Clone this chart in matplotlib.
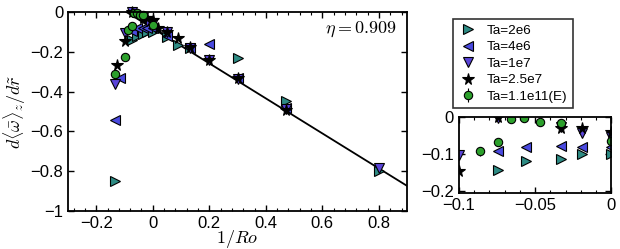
import numpy as np
import matplotlib.pyplot as plt
from matplotlib.ticker import AutoMinorLocator, MultipleLocator, FuncFormatter

plt.rcParams['font.family'] = ['Liberation Sans', 'DejaVu Sans']
plt.rcParams['mathtext.fontset'] = 'cm'

# Datos
x_2e6 = [-0.134, -0.074, -0.056, -0.033, -0.019, 0.0, 0.05, 0.088, 0.133, 0.3, 0.47, 0.8]
y_2e6 = [-0.848, -0.142, -0.118, -0.112, -0.100, -0.100, -0.125, -0.165, -0.18, -0.233, -0.446, -0.80]

x_4e6 = [-0.134, -0.115, -0.074, -0.056, -0.033, -0.019, 0.0, 0.05, 0.133, 0.2, 0.3, 0.47]
y_4e6 = [-0.543, -0.33, -0.093, -0.081, -0.078, -0.080, -0.080, -0.12, -0.18, -0.159, -0.33, -0.48]

x_1e7 = [-0.134, -0.1, -0.074, -0.033, -0.019, 0.0, 0.05, 0.133, 0.2, 0.3, 0.47, 0.8]
y_1e7 = [-0.36, -0.103, -0.002, -0.026, -0.043, -0.055, -0.10, -0.18, -0.24, -0.335, -0.485, -0.785]

x_25e7 = [-0.125, -0.1, -0.074, -0.033, -0.019, 0.0, 0.019, 0.05, 0.088, 0.133, 0.2, 0.3, 0.47]
y_25e7 = [-0.266, -0.145, 0.0, -0.03, -0.03, -0.04, -0.082, -0.10, -0.13, -0.174, -0.24, -0.33, -0.49]

x_exp = [-0.134, -0.1, -0.086, -0.074, -0.066, -0.057, -0.047, -0.033, 0.0]
y_exp = [-0.31, -0.224, -0.092, -0.068, -0.005, -0.003, -0.014, -0.015, -0.064]
e_exp = [0.01, 0.01, 0.012, 0.01, 0.008, 0.008, 0.01, 0.01, 0.012]

# Ajuste lineal
pendiente = -0.88
ordenada = -0.082
x_fit = np.array([-0.093, 0.9])

series = [
    (x_2e6, y_2e6, '>', '#2e8b84', 'Ta=2e6'),
    (x_4e6, y_4e6, '<', '#4a4ae0', 'Ta=4e6'),
    (x_1e7, y_1e7, 'v', '#5a44d8', 'Ta=1e7'),
    (x_25e7, y_25e7, '*', 'black', 'Ta=2.5e7'),
]

fig = plt.figure(figsize=(6.2, 2.49), dpi=100)
ax = fig.add_axes([0.1097, 0.1526, 0.547, 0.799])
ax2 = fig.add_axes([0.740, 0.225, 0.246, 0.305])


def dibujar(a, ms, clip):
    for xs, ys, m, c, lab in series:
        kw = dict(marker=m, linestyle='none', mfc=c, mec='black', ms=ms, mew=0.8, label=lab)
        if m == '*':
            kw.update(ms=ms + 2, mec='black')
        a.plot(xs, ys, clip_on=clip, **kw)
    a.errorbar(x_exp, y_exp, yerr=e_exp, fmt='o', mfc='#2ca02c', mec='black', ecolor='black',
               ms=ms - 0.5, mew=0.8, elinewidth=0.8, capsize=0, label='Ta=1.1e11(E)',
               clip_on=clip)


fmt = FuncFormatter(lambda v, p: ('%g' % round(v, 6)).replace('-', '\u2212'))

ax.plot(x_fit, ordenada + pendiente * x_fit, color='black', lw=1.3, zorder=1)
dibujar(ax, 6.5, False)
dibujar(ax2, 6.5, True)

ax.set_xlim(-0.3, 0.9)
ax.set_ylim(-1, 0)
ax.xaxis.set_major_locator(MultipleLocator(0.2))
ax.yaxis.set_major_locator(MultipleLocator(0.2))
ax.xaxis.set_minor_locator(AutoMinorLocator(5))
ax.set_xlabel(r'$1/Ro$', fontsize=13, labelpad=-2)
ax.set_ylabel(r'$d\langle\bar{\omega}\rangle_z/d\tilde{r}$', fontsize=13, labelpad=2)
ax.text(0.97, 0.96, r'$\eta=0.909$', transform=ax.transAxes, ha='right', va='top', fontsize=13)

ax2.set_xlim(-0.1, 0.0)
ax2.set_ylim(-0.205, 0)
ax2.xaxis.set_major_locator(MultipleLocator(0.05))
ax2.yaxis.set_major_locator(MultipleLocator(0.1))
ax2.xaxis.set_minor_locator(AutoMinorLocator(5))

for a in (ax, ax2):
    a.xaxis.set_major_formatter(fmt)
    a.yaxis.set_major_formatter(fmt)
    a.tick_params(which='both', direction='in', top=True, right=True, labelsize=12)
    a.tick_params(which='major', length=4, width=1)
    a.tick_params(which='minor', length=2, width=0.8)
    for s in a.spines.values():
        s.set_linewidth(1.3)

h, l = ax.get_legend_handles_labels()
leg = fig.legend(h, l, loc='upper left', bbox_to_anchor=(453 / 620, 1 - 19 / 249), numpoints=1,
                 fontsize=9.7, frameon=True, fancybox=False, edgecolor='black', borderpad=0.4,
                 labelspacing=0.3, handletextpad=0.6, handlelength=1.5, borderaxespad=0)
leg.get_frame().set_linewidth(1.2)

fig.savefig('out.png', dpi=100)
